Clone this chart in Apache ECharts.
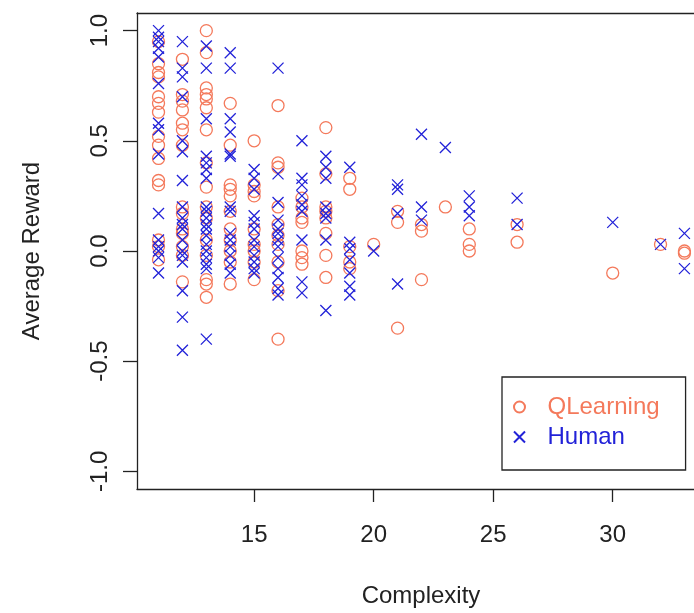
<!DOCTYPE html>
<html>
<head>
<meta charset="utf-8">
<script src="https://cdn.jsdelivr.net/npm/echarts@6/dist/echarts.min.js"></script>
<style>
html,body{margin:0;padding:0;background:#fff;}
#chart{width:694px;height:613px;}
</style>
</head>
<body>
<div id="chart"></div>
<script>
// Complexity levels (x positions of the point columns)
const complexity = [11, 12, 13, 14, 15, 16, 17, 18, 19, 20, 21, 22, 23, 24, 26, 30, 32, 33];

// Average reward values per complexity level, QLearning (circles)
const qlearning = [
  [0.95, 0.85, 0.81, 0.79, 0.70, 0.67, 0.63, 0.52, 0.48, 0.42, 0.32, 0.30, 0.05, 0.02, -0.04],
  [0.87, 0.71, 0.68, 0.64, 0.58, 0.55, 0.48, 0.20, 0.17, 0.10, 0.08, 0.02, -0.02, -0.14],
  [1.0, 0.90, 0.74, 0.71, 0.69, 0.65, 0.55, 0.40, 0.29, 0.20, 0.15, 0.05, -0.02, -0.13, -0.15, -0.21],
  [0.67, 0.48, 0.30, 0.28, 0.25, 0.18, 0.10, 0.05, 0.0, -0.05, -0.15],
  [0.50, 0.30, 0.27, 0.25, 0.10, 0.03, 0.0, -0.05, -0.13],
  [0.66, 0.40, 0.38, 0.20, 0.12, 0.07, 0.03, -0.05, -0.18, -0.40],
  [0.24, 0.20, 0.15, 0.13, 0.0, -0.03, -0.06],
  [0.56, 0.35, 0.20, 0.18, 0.15, 0.08, -0.02, -0.12],
  [0.33, 0.28, 0.02, -0.05, -0.08],
  [0.03],
  [0.18, 0.13, -0.35],
  [0.12, 0.09, -0.13],
  [0.20],
  [0.10, 0.03, 0.0],
  [0.12, 0.04],
  [-0.10],
  [0.03],
  [0.0, -0.01]
];

// Average reward values per complexity level, Human (crosses)
const human = [
  [1.0, 0.97, 0.95, 0.92, 0.88, 0.76, 0.58, 0.55, 0.44, 0.17, 0.05, 0.02, 0.0, -0.03, -0.10],
  [0.95, 0.83, 0.79, 0.70, 0.50, 0.45, 0.32, 0.20, 0.15, 0.12, 0.10, 0.05, 0.0, -0.02, -0.05, -0.18, -0.30, -0.45],
  [0.93, 0.83, 0.60, 0.43, 0.40, 0.37, 0.33, 0.20, 0.18, 0.15, 0.12, 0.10, 0.07, 0.03, 0.0, -0.03, -0.06, -0.08, -0.40],
  [0.90, 0.83, 0.60, 0.54, 0.44, 0.43, 0.20, 0.18, 0.08, 0.05, 0.02, -0.02, -0.06, -0.10],
  [0.37, 0.33, 0.28, 0.16, 0.13, 0.10, 0.05, 0.02, -0.02, -0.05, -0.08, -0.10],
  [0.83, 0.35, 0.22, 0.14, 0.10, 0.08, 0.05, 0.02, -0.03, -0.08, -0.12, -0.17, -0.20],
  [0.50, 0.33, 0.30, 0.25, 0.21, 0.18, 0.05, -0.14, -0.19],
  [0.43, 0.38, 0.33, 0.20, 0.17, 0.15, 0.05, -0.27],
  [0.38, 0.04, 0.01, -0.04, -0.10, -0.16, -0.20],
  [0.0],
  [0.30, 0.28, 0.17, -0.15],
  [0.53, 0.20, 0.14],
  [0.47],
  [0.25, 0.20, 0.16],
  [0.24, 0.12],
  [0.13],
  [0.03],
  [0.08, -0.08]
];

// Tick labels
const xTicks = [15, 20, 25, 30];
const yTicks = [-1.0, -0.5, 0.0, 0.5, 1.0];

function pairs(cols) {
  const out = [];
  complexity.forEach((c, i) => cols[i].forEach(v => out.push([c, v])));
  return out;
}

const QL_COLOR = '#F4795B';
const HU_COLOR = '#2222D8';
const AXIS_COLOR = '#222';
const FONT = '"Liberation Sans", Arial, Helvetica, sans-serif';
const FS = 24;
const CROSS = 'path://M0,0L10,10M10,0L0,10';
const X_MIN = 10.1, X_MAX = 33.4;

const chart = echarts.init(document.getElementById('chart'), null, {renderer: 'canvas'});
chart.setOption({
  backgroundColor: '#fff',
  animation: false,
  textStyle: {fontFamily: FONT},
  grid: {left: 137, top: 13, right: 0, bottom: 122, show: false},
  xAxis: [{
    type: 'value', min: X_MIN, max: X_MAX, position: 'bottom',
    name: 'Complexity', nameLocation: 'middle', nameGap: 95,
    nameTextStyle: {fontFamily: FONT, fontSize: FS, color: AXIS_COLOR, padding: [0, 0, 0, 11]},
    splitLine: {show: false},
    axisLine: {show: true, onZero: false, lineStyle: {color: AXIS_COLOR, width: 1.3}},
    axisTick: {show: true, inside: false, length: 13, customValues: xTicks, lineStyle: {color: AXIS_COLOR, width: 1.3}},
    axisLabel: {show: true, margin: 34, customValues: xTicks, fontFamily: FONT, fontSize: FS, color: AXIS_COLOR}
  }, {
    type: 'value', min: X_MIN, max: X_MAX, position: 'top',
    splitLine: {show: false}, axisTick: {show: false}, axisLabel: {show: false},
    axisLine: {show: true, onZero: false, lineStyle: {color: AXIS_COLOR, width: 1.3}}
  }],
  yAxis: {
    type: 'value', min: -1.08, max: 1.08,
    name: 'Average Reward', nameLocation: 'middle', nameGap: 93,
    nameTextStyle: {fontFamily: FONT, fontSize: FS, color: AXIS_COLOR},
    splitLine: {show: false},
    axisLine: {show: true, onZero: false, lineStyle: {color: AXIS_COLOR, width: 1.3}},
    axisTick: {show: true, inside: false, length: 14, customValues: yTicks, lineStyle: {color: AXIS_COLOR, width: 1.3}},
    axisLabel: {show: true, rotate: 90, margin: 25, customValues: yTicks, fontFamily: FONT, fontSize: FS, color: AXIS_COLOR,
      formatter: v => v.toFixed(1)}
  },
  legend: {
    show: true, orient: 'vertical', left: 502, top: 377,
    borderColor: AXIS_COLOR, borderWidth: 1.3, borderRadius: 0,
    padding: [18, 26, 21, 11], itemGap: 6, itemWidth: 24, itemHeight: 11,
    textStyle: {fontFamily: FONT, fontSize: FS, padding: [0, 0, 0, 11]},
    data: [
      {name: 'QLearning', textStyle: {color: QL_COLOR}},
      {name: 'Human', textStyle: {color: HU_COLOR}}
    ]
  },
  series: [
    {
      name: 'QLearning', type: 'scatter', data: pairs(qlearning),
      symbol: 'circle', symbolSize: 12,
      itemStyle: {color: 'rgba(0,0,0,0)', borderColor: QL_COLOR, borderWidth: 1.3, opacity: 1}
    },
    {
      name: 'Human', type: 'scatter', data: pairs(human),
      symbol: CROSS, symbolSize: 11,
      itemStyle: {color: 'rgba(0,0,0,0)', borderColor: HU_COLOR, borderWidth: 1.3, opacity: 1}
    }
  ]
});
</script>
</body>
</html>
